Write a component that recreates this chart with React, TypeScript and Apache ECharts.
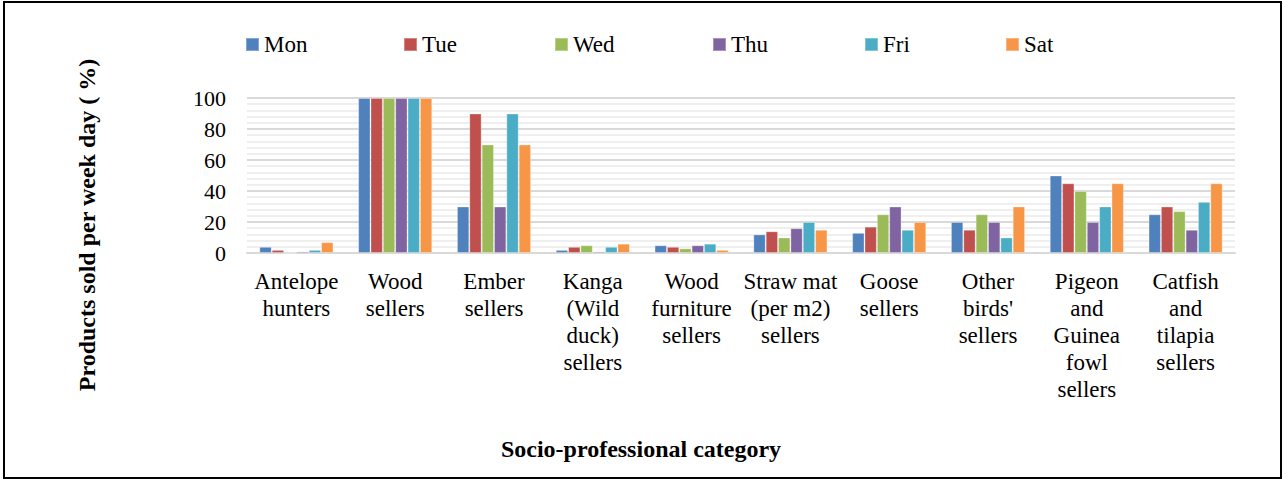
import React, { useEffect, useRef } from "react";
import * as echarts from "echarts";

const categories = [
  "Antelope\nhunters",
  "Wood\nsellers",
  "Ember\nsellers",
  "Kanga\n(Wild\nduck)\nsellers",
  "Wood\nfurniture\nsellers",
  "Straw mat\n(per m2)\nsellers",
  "Goose\nsellers",
  "Other\nbirds'\nsellers",
  "Pigeon\nand\nGuinea\nfowl\nsellers",
  "Catfish\nand\ntilapia\nsellers",
];

const days = ["Mon", "Tue", "Wed", "Thu", "Fri", "Sat"];

const mon = [4, 100, 30, 2, 5, 12, 13, 20, 50, 25];
const tue = [2, 100, 90, 4, 4, 14, 17, 15, 45, 30];
const wed = [0, 100, 70, 5, 3, 10, 25, 25, 40, 27];
const thu = [1, 100, 30, 1, 5, 16, 30, 20, 20, 15];
const fri = [2, 100, 90, 4, 6, 20, 15, 10, 30, 33];
const sat = [7, 100, 70, 6, 2, 15, 20, 30, 45, 45];

const seriesValues = [mon, tue, wed, thu, fri, sat];
const colors = ["#4F81BD", "#C0504D", "#9BBB59", "#8064A2", "#4BACC6", "#F79646"];
const legendLefts = [245, 403, 554, 712, 864, 1005];

const FONT = "Liberation Serif";

export default function App() {
  const ref = useRef<HTMLDivElement>(null);
  useEffect(() => {
    if (!ref.current) return;
    const chart = echarts.init(ref.current, undefined, { renderer: "svg" });
    chart.setOption({
      animation: false,
      backgroundColor: "#fff",
      color: colors,
      textStyle: { fontFamily: FONT },
      legend: days.map((d, i) => ({
        data: [d],
        left: legendLefts[i],
        top: 33,
        itemWidth: 13,
        itemHeight: 13,
        itemGap: 0,
        icon: "rect",
        textStyle: { fontFamily: FONT, fontSize: 23, color: "#000", lineHeight: 22 },
        padding: 0,
        selectedMode: false,
      })),
      grid: { left: 247, top: 98, width: 988, height: 155, containLabel: false },
      xAxis: {
        type: "category",
        data: categories,
        axisLine: { show: true, lineStyle: { color: "#d9d9d9", width: 2 } },
        axisTick: { show: false },
        axisLabel: {
          interval: 0,
          fontFamily: FONT,
          fontSize: 23,
          lineHeight: 27,
          color: "#000",
          margin: 15,
          align: "center",
        },
      },
      yAxis: {
        type: "value",
        min: 0,
        max: 100,
        interval: 20,
        axisLine: { show: false },
        axisTick: { show: false },
        axisLabel: { fontFamily: FONT, fontSize: 22, color: "#000", margin: 21 },
        splitLine: { show: true, lineStyle: { color: "#d9d9d9", width: 2 } },
        minorTick: { show: false, splitNumber: 5 },
        minorSplitLine: { show: true, lineStyle: { color: "#efefef", width: 2 } },
      },
      series: days.map((d, i) => ({
        name: d,
        type: "bar",
        data: seriesValues[i],
        barGap: "0%",
        barCategoryGap: "25%",
        itemStyle: { color: colors[i], borderColor: "rgba(255,255,255,0.3)", borderWidth: 1 },
      })),
      graphic: [
        {
          type: "rect",
          shape: { x: 4, y: 2, width: 1277, height: 476 },
          style: { fill: "none", stroke: "#000", lineWidth: 2 },
          silent: true,
        },
        {
          type: "text",
          x: 87,
          y: 225,
          rotation: Math.PI / 2,
          style: {
            text: "Products sold per week day ( %)",
            fontFamily: FONT,
            fontSize: 24,
            fontWeight: "bold",
            fill: "#000",
            textAlign: "center",
            textVerticalAlign: "middle",
          },
        },
        {
          type: "text",
          x: 641,
          y: 449,
          style: {
            text: "Socio-professional category",
            fontFamily: FONT,
            fontSize: 24,
            fontWeight: "bold",
            fill: "#000",
            textAlign: "center",
            textVerticalAlign: "middle",
          },
        },
      ],
    });
    return () => chart.dispose();
  }, []);
  return (
    <div
      ref={ref}
      style={{ position: "fixed", left: 0, top: 0, width: 1284, height: 479 }}
    />
  );
}
